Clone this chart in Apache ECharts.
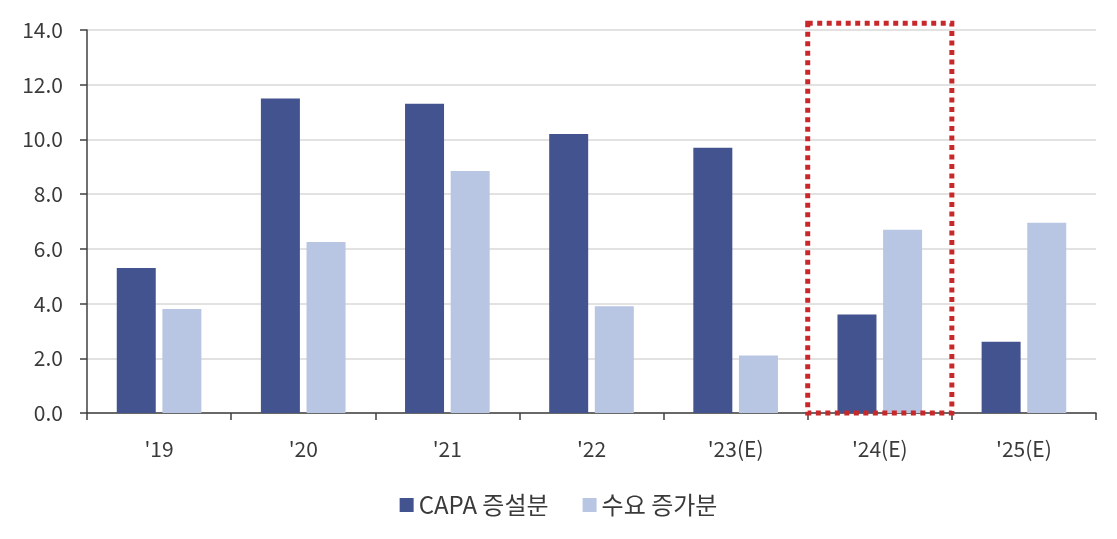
<!DOCTYPE html>
<html><head><meta charset="utf-8">
<script src="https://cdn.jsdelivr.net/npm/echarts@6/dist/echarts.min.js"></script>
<style>html,body{margin:0;padding:0;background:#fff}#c{width:1117px;height:539px}</style>
</head><body><div id="c"></div>
<script>
const categories = ["'19", "'20", "'21", "'22", "'23(E)", "'24(E)", "'25(E)"];
const capaValues = [5.3, 11.5, 11.3, 10.2, 9.7, 3.6, 2.6];
const demandValues = [3.8, 6.25, 8.85, 3.9, 2.1, 6.7, 6.95];
const seriesNames = ["CAPA 증설분", "수요 증가분"];
const highlightCategory = "'24(E)";
const highlightTop = 14.25;

const font = "'Noto Sans CJK KR','Noto Sans',sans-serif";
const labelColor = '#3a3a3a';
const chart = echarts.init(document.getElementById('c'), null, {renderer: 'canvas'});
chart.setOption({
  animation: false,
  textStyle: {fontFamily: font},
  grid: {left: 87, right: 21, top: 30, bottom: 126, containLabel: false},
  legend: {
    bottom: 17, left: 'center', itemWidth: 14, itemHeight: 14, itemGap: 34,
    textStyle: {fontSize: 24, color: labelColor, fontFamily: font},
    data: seriesNames.map(n => ({name: n, icon: 'rect'}))
  },
  xAxis: {
    type: 'category', data: categories,
    axisLine: {lineStyle: {color: '#404040', width: 1.5}},
    axisTick: {show: true, length: 7, lineStyle: {color: '#404040', width: 1.5}},
    axisLabel: {fontSize: 21, color: labelColor, margin: 26, fontFamily: font}
  },
  yAxis: {
    type: 'value', min: 0, max: 14, interval: 2,
    axisLine: {show: true, lineStyle: {color: '#404040', width: 1.5}},
    axisTick: {show: true, length: 7, lineStyle: {color: '#404040', width: 1.5}},
    axisLabel: {fontSize: 21, color: labelColor, margin: 24, fontFamily: font,
      formatter: v => v.toFixed(1)},
    splitLine: {lineStyle: {color: '#d9d9d9', width: 1.5}}
  },
  series: [
    {name: seriesNames[0], type: 'bar', data: capaValues, barWidth: 39, barGap: '17%',
     itemStyle: {color: '#43538f'}},
    {name: seriesNames[1], type: 'bar', data: demandValues, barWidth: 39,
     itemStyle: {color: '#b8c5e3'}}
  ]
});

function drawBox() {
  const idx = categories.indexOf(highlightCategory);
  const c = chart.convertToPixel({gridIndex: 0}, [idx, 0]);
  const c2 = chart.convertToPixel({gridIndex: 0}, [idx + 1, highlightTop]);
  const band = c2[0] - c[0];
  const x0 = c[0] - band / 2, x1 = c[0] + band / 2;
  const yTop = c2[1], yBot = c[1];
  chart.setOption({graphic: [{
    type: 'rect', z: 100,
    shape: {x: x0, y: yTop, width: x1 - x0, height: yBot - yTop},
    style: {fill: 'none', stroke: '#c8282a', lineWidth: 5, lineDash: [5, 4.5]}
  }]});
}
drawBox();
</script></body></html>
